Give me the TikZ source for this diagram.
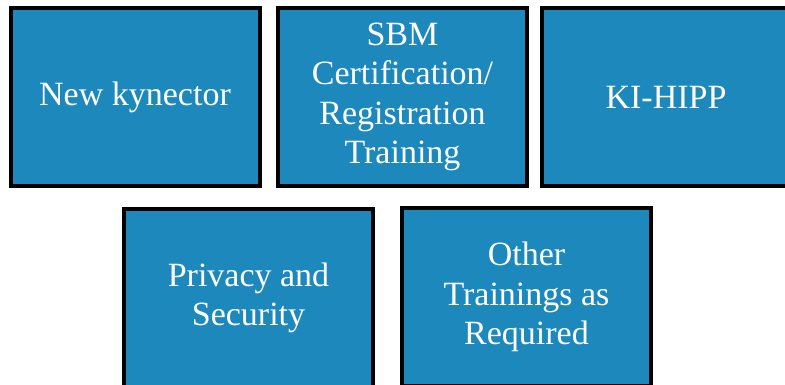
\documentclass[tikz,border=0pt]{standalone}
\usepackage{fontspec}
\setmainfont{Liberation Serif}
\definecolor{boxblue}{RGB}{29,136,187}
\begin{document}
\begin{tikzpicture}[x=1pt,y=-1pt,
  tbox/.style={draw=black, line width=4pt, fill=boxblue, rectangle,
    minimum width=249pt, minimum height=178pt, inner sep=0pt,
    text=white, align=center,
    font=\fontsize{34}{39.5}\selectfont}]
\useasboundingbox (0,0) rectangle (785,385);
\fill[white] (0,0) rectangle (785,385);
\node[tbox] (a) at (135,97) {New kynector};
\node[tbox] (b) at (402.5,97) {SBM\\Certification/\\Registration\\Training};
\node[tbox] (c) at (666,97) {KI-HIPP};
\node[tbox] (d) at (248.5,298) {Privacy and\\Security};
\node[tbox] (e) at (526.5,297) {Other\\Trainings as\\Required};
\end{tikzpicture}
\end{document}
